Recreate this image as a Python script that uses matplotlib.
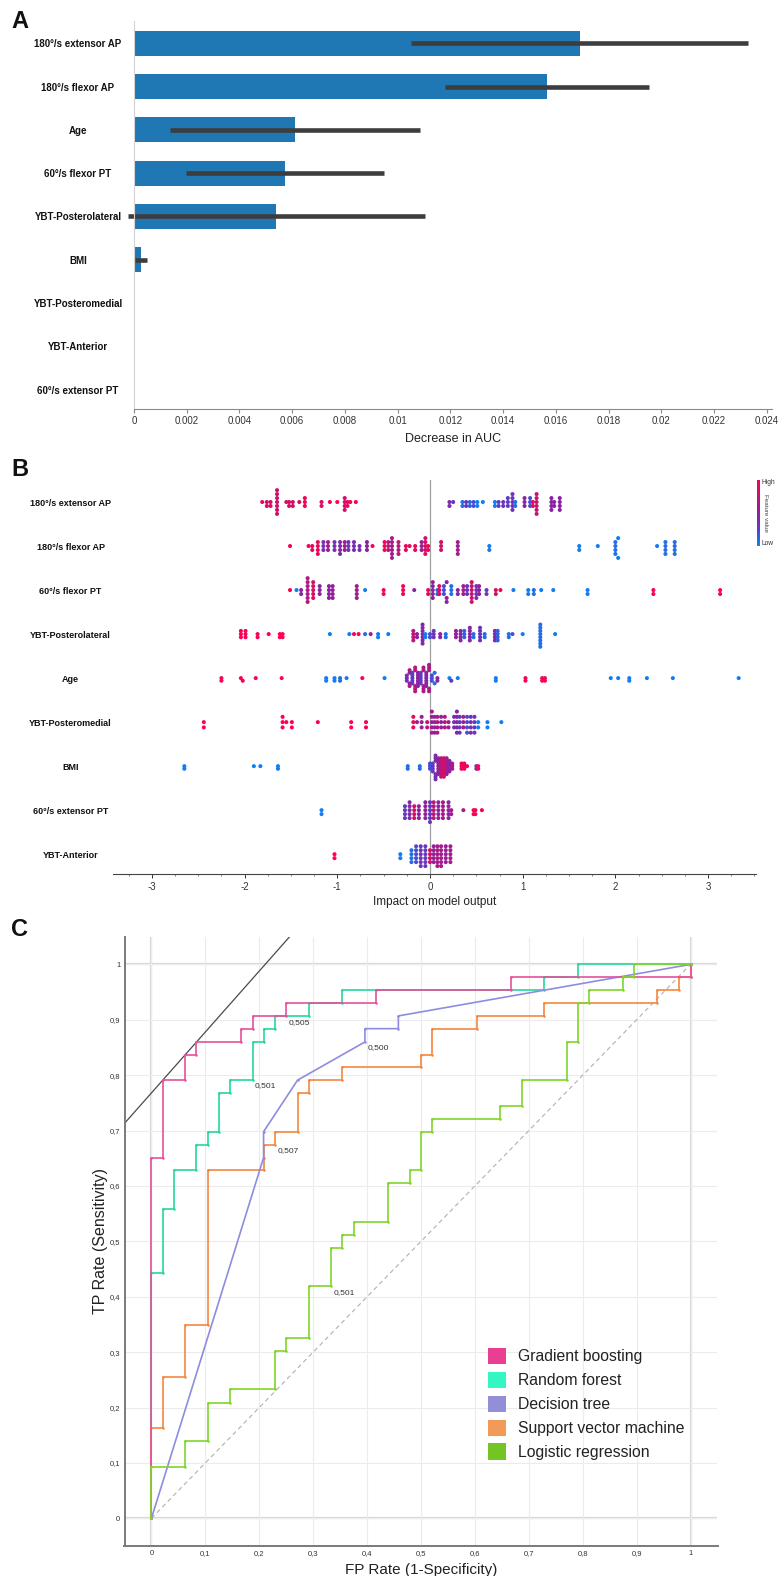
import numpy as np
import matplotlib
matplotlib.use("Agg")
import matplotlib.pyplot as plt
from matplotlib.colors import LinearSegmentedColormap
from matplotlib.patches import Patch
from matplotlib.ticker import FuncFormatter, MultipleLocator

plt.rcParams['font.family'] = ['Liberation Sans', 'DejaVu Sans']
plt.rcParams['axes.unicode_minus'] = False

W, H = 781, 1576

# ---------------- panel A: permutation importance ----------------
imp_features = ['180°/s extensor AP', '180°/s flexor AP', 'Age', '60°/s flexor PT',
                'YBT-Posterolateral', 'BMI', 'YBT-Posteromedial', 'YBT-Anterior',
                '60°/s extensor PT']
imp_mean = [0.0169, 0.01568, 0.00612, 0.00574, 0.0054, 0.00025, 0, 0, 0]
imp_err = [0.0064, 0.00387, 0.00474, 0.00375, 0.00562, 0.00023, 0, 0, 0]

# ---------------- panel B: SHAP summary (value, count, feature value) ----------------
shap_features = ['180°/s extensor AP', '180°/s flexor AP', '60°/s flexor PT',
                 'YBT-Posterolateral', 'Age', 'YBT-Posteromedial', 'BMI',
                 '60°/s extensor PT', 'YBT-Anterior']

shap_ext180_ap = [(-1.81, 1, 0.85), (-1.76, 2, 0.8), (-1.72, 2, 0.85), (-1.65, 7, 0.8),
                  (-1.55, 1, 0.8), (-1.52, 2, 0.85), (-1.48, 2, 0.8), (-1.41, 1, 0.8),
                  (-1.35, 3, 0.95), (-1.17, 2, 0.85), (-1.08, 1, 0.9), (-1.00, 1, 1.0),
                  (-0.92, 4, 0.8), (-0.89, 2, 0.9), (-0.86, 1, 0.95), (-0.80, 1, 0.95),
                  (0.21, 2, 0.4), (0.25, 1, 0.3), (0.35, 2, 0.1), (0.39, 2, 0.3),
                  (0.43, 2, 0.15), (0.47, 2, 0.2), (0.51, 2, 0.05), (0.57, 1, 0.05),
                  (0.70, 2, 0.05), (0.74, 2, 0.3), (0.79, 2, 0.35), (0.84, 3, 0.3),
                  (0.89, 5, 0.35), (0.92, 2, 0.1), (1.02, 3, 0.5), (1.08, 3, 0.2),
                  (1.11, 2, 0.9), (1.15, 6, 0.75), (1.31, 4, 0.5), (1.34, 2, 0.5),
                  (1.40, 4, 0.5)]
shap_flx180_ap = [(-1.51, 1, 0.95), (-1.31, 1, 0.95), (-1.27, 2, 0.85), (-1.21, 4, 0.9),
                  (-1.15, 3, 0.4), (-1.10, 3, 0.6), (-1.03, 3, 0.4), (-0.97, 4, 0.45),
                  (-0.92, 3, 0.6), (-0.88, 3, 0.35), (-0.82, 3, 0.4), (-0.76, 2, 0.4),
                  (-0.68, 3, 0.5), (-0.62, 1, 0.95), (-0.49, 3, 0.95), (-0.45, 3, 0.7),
                  (-0.41, 6, 0.6), (-0.34, 4, 0.7), (-0.26, 2, 0.9), (-0.22, 1, 0.9),
                  (-0.16, 2, 0.9), (-0.09, 3, 0.55), (-0.05, 5, 0.85), (-0.02, 2, 0.9),
                  (0.12, 3, 0.8), (0.30, 4, 0.6), (0.64, 2, 0.05), (1.61, 2, 0.05),
                  (1.81, 1, 0.05), (2.00, 4, 0.1), (2.03, 2, 0.05), (2.45, 1, 0.05),
                  (2.54, 4, 0.1), (2.64, 4, 0.1)]
shap_flx60_pt = [(-1.51, 1, 0.95), (-1.44, 1, 0.05), (-1.39, 2, 0.5), (-1.32, 7, 0.65),
                 (-1.26, 5, 0.85), (-1.19, 3, 0.5), (-1.09, 4, 0.5), (-1.05, 4, 0.55),
                 (-0.79, 4, 0.6), (-0.70, 1, 0.05), (-0.50, 2, 0.95), (-0.29, 3, 0.95),
                 (-0.17, 1, 0.5), (-0.02, 2, 0.9), (0.03, 5, 0.5), (0.08, 2, 0.1),
                 (0.10, 3, 0.9), (0.15, 3, 0.2), (0.18, 3, 0.5), (0.23, 3, 0.1),
                 (0.30, 2, 0.5), (0.36, 3, 0.6), (0.40, 3, 0.3), (0.45, 6, 0.75),
                 (0.50, 4, 0.4), (0.53, 3, 0.5), (0.61, 2, 0.3), (0.71, 2, 0.8),
                 (0.76, 1, 0.95), (0.90, 1, 0.05), (1.06, 2, 0.05), (1.12, 2, 0.1),
                 (1.20, 1, 0.05), (1.33, 1, 0.05), (1.70, 2, 0.05), (2.41, 2, 1.0),
                 (3.13, 2, 1.0)]
shap_ybt_pl = [(-2.04, 3, 1.0), (-1.99, 3, 0.95), (-1.86, 2, 0.95), (-1.74, 1, 1.0),
               (-1.62, 2, 1.0), (-1.59, 2, 0.95), (-1.08, 1, 0.05), (-0.87, 1, 0.05),
               (-0.82, 1, 0.95), (-0.77, 1, 0.9), (-0.70, 1, 0.1), (-0.64, 1, 0.6),
               (-0.56, 2, 0.05), (-0.45, 1, 0.05), (-0.18, 4, 0.7), (-0.14, 2, 0.5),
               (-0.08, 7, 0.45), (-0.05, 2, 0.05), (0.00, 2, 0.2), (0.04, 3, 0.35),
               (0.11, 2, 0.5), (0.17, 2, 0.1), (0.28, 3, 0.55), (0.33, 4, 0.5),
               (0.37, 3, 0.15), (0.43, 5, 0.5), (0.47, 2, 0.1), (0.54, 5, 0.35),
               (0.59, 2, 0.1), (0.70, 4, 0.45), (0.73, 4, 0.15), (0.85, 2, 0.1),
               (0.89, 1, 0.2), (1.00, 1, 0.05), (1.19, 8, 0.1), (1.35, 1, 0.05)]
shap_age = [(-2.25, 2, 1.0), (-2.04, 1, 1.0), (-2.02, 1, 0.95), (-1.88, 1, 1.0),
            (-1.60, 1, 1.0), (-1.12, 2, 0.05), (-1.03, 2, 0.05), (-0.97, 2, 0.1),
            (-0.90, 1, 0.05), (-0.73, 1, 1.0), (-0.49, 1, 0.05), (-0.25, 3, 0.4),
            (-0.22, 4, 0.6), (-0.19, 5, 0.3), (-0.16, 5, 0.7), (-0.13, 6, 0.5),
            (-0.10, 5, 0.3), (-0.07, 5, 0.65), (-0.04, 6, 0.5), (-0.01, 5, 0.6),
            (0.02, 3, 0.2), (0.05, 2, 0.1), (0.08, 2, 0.5), (0.21, 1, 0.05),
            (0.23, 1, 0.3), (0.30, 1, 0.05), (0.71, 2, 0.05), (1.03, 2, 1.0),
            (1.21, 2, 1.0), (1.24, 2, 0.95), (1.95, 1, 0.05), (2.03, 1, 0.05),
            (2.15, 2, 0.05), (2.34, 1, 0.05), (2.62, 1, 0.05), (3.33, 1, 0.05)]
shap_ybt_pm = [(-2.44, 2, 1.0), (-1.59, 3, 1.0), (-1.55, 1, 0.95), (-1.49, 2, 1.0),
               (-1.21, 1, 1.0), (-0.85, 2, 1.0), (-0.69, 2, 0.95), (-0.18, 3, 0.9),
               (-0.14, 1, 0.6), (-0.09, 3, 0.55), (-0.03, 2, 0.7), (0.02, 5, 0.6),
               (0.05, 4, 0.5), (0.08, 4, 0.65), (0.12, 3, 0.5), (0.16, 3, 0.7),
               (0.20, 2, 0.55), (0.26, 3, 0.4), (0.29, 5, 0.5), (0.32, 4, 0.3),
               (0.36, 3, 0.6), (0.40, 4, 0.2), (0.44, 4, 0.4), (0.48, 4, 0.35),
               (0.52, 2, 0.05), (0.62, 2, 0.05), (0.77, 1, 0.05)]
shap_bmi = [(-2.65, 2, 0.05), (-1.90, 1, 0.05), (-1.83, 1, 0.05), (-1.64, 2, 0.05),
            (-0.24, 2, 0.1), (-0.11, 2, 0.1), (0.00, 3, 0.2), (0.03, 4, 0.3),
            (0.06, 6, 0.4), (0.09, 7, 0.55), (0.12, 8, 0.7), (0.15, 8, 0.8),
            (0.18, 7, 0.6), (0.21, 5, 0.5), (0.24, 3, 0.6), (0.34, 3, 0.95),
            (0.37, 3, 0.9), (0.40, 1, 0.95), (0.50, 2, 0.3), (0.52, 2, 1.0)]
shap_ext60_pt = [(-1.17, 2, 0.05), (-0.27, 4, 0.3), (-0.22, 5, 0.45), (-0.17, 4, 0.8),
                 (-0.12, 4, 0.5), (-0.05, 5, 0.55), (0.00, 6, 0.3), (0.04, 5, 0.7),
                 (0.09, 5, 0.5), (0.14, 5, 0.65), (0.20, 5, 0.5), (0.23, 2, 0.6),
                 (0.36, 1, 0.6), (0.47, 2, 1.0), (0.49, 2, 0.95), (0.56, 1, 1.0)]
shap_ybt_ant = [(-1.03, 2, 1.0), (-0.32, 2, 0.05), (-0.20, 4, 0.1), (-0.15, 5, 0.2),
                (-0.10, 6, 0.35), (-0.05, 6, 0.3), (0.00, 4, 0.8), (0.04, 5, 0.55),
                (0.08, 6, 0.65), (0.12, 6, 0.6), (0.17, 5, 0.55), (0.22, 5, 0.6)]

shap_rows = [shap_ext180_ap, shap_flx180_ap, shap_flx60_pt, shap_ybt_pl, shap_age,
             shap_ybt_pm, shap_bmi, shap_ext60_pt, shap_ybt_ant]

# ---------------- panel C: ROC curves ----------------
gb_fpr = [0, 0, 0.021, 0.021, 0.062, 0.062, 0.083, 0.083, 0.167, 0.167, 0.188, 0.188,
          0.25, 0.25, 0.417, 0.417, 0.667, 0.667, 1.0, 1.0]
gb_tpr = [0, 0.651, 0.651, 0.791, 0.791, 0.837, 0.837, 0.860, 0.860, 0.884, 0.884, 0.907,
          0.907, 0.930, 0.930, 0.953, 0.953, 0.977, 0.977, 1.0]
rf_fpr = [0, 0, 0.021, 0.021, 0.042, 0.042, 0.083, 0.083, 0.104, 0.104, 0.125, 0.125,
          0.146, 0.146, 0.188, 0.188, 0.208, 0.208, 0.229, 0.229, 0.292, 0.292, 0.354,
          0.354, 0.729, 0.729, 0.792, 0.792, 1.0]
rf_tpr = [0, 0.442, 0.442, 0.558, 0.558, 0.628, 0.628, 0.674, 0.674, 0.698, 0.698, 0.767,
          0.767, 0.791, 0.791, 0.860, 0.860, 0.884, 0.884, 0.907, 0.907, 0.930, 0.930,
          0.953, 0.953, 0.977, 0.977, 1.0, 1.0]
dt_fpr = [0, 0.208, 0.208, 0.271, 0.396, 0.396, 0.458, 0.458, 1.0]
dt_tpr = [0, 0.651, 0.698, 0.791, 0.860, 0.884, 0.884, 0.907, 1.0]
svm_fpr = [0, 0, 0.021, 0.021, 0.062, 0.062, 0.104, 0.104, 0.208, 0.208, 0.229, 0.229,
           0.271, 0.271, 0.292, 0.292, 0.354, 0.354, 0.5, 0.5, 0.521, 0.521, 0.604, 0.604,
           0.729, 0.729, 0.938, 0.938, 0.979, 0.979, 1.0, 1.0]
svm_tpr = [0, 0.163, 0.163, 0.256, 0.256, 0.349, 0.349, 0.628, 0.628, 0.674, 0.674, 0.698,
           0.698, 0.767, 0.767, 0.791, 0.791, 0.814, 0.814, 0.837, 0.837, 0.884, 0.884,
           0.907, 0.907, 0.930, 0.930, 0.953, 0.953, 0.977, 0.977, 1.0]
lr_fpr = [0, 0, 0.062, 0.062, 0.104, 0.104, 0.146, 0.146, 0.229, 0.229, 0.25, 0.25, 0.292,
          0.292, 0.333, 0.333, 0.354, 0.354, 0.375, 0.375, 0.438, 0.438, 0.479, 0.479,
          0.5, 0.5, 0.521, 0.521, 0.646, 0.646, 0.688, 0.688, 0.771, 0.771, 0.792, 0.792,
          0.812, 0.812, 0.875, 0.875, 0.896, 0.896, 1.0]
lr_tpr = [0, 0.093, 0.093, 0.140, 0.140, 0.209, 0.209, 0.233, 0.233, 0.302, 0.302, 0.326,
          0.326, 0.419, 0.419, 0.488, 0.488, 0.512, 0.512, 0.535, 0.535, 0.605, 0.605,
          0.628, 0.628, 0.698, 0.698, 0.721, 0.721, 0.744, 0.744, 0.791, 0.791, 0.860,
          0.860, 0.930, 0.930, 0.953, 0.953, 0.977, 0.977, 1.0, 1.0]

model_names = ['Gradient boosting', 'Random forest', 'Decision tree',
               'Support vector machine', 'Logistic regression']
line_colors = ['#e4519b', '#27d69e', '#8d8ce0', '#f3873d', '#7fd62a']
swatch_colors = ['#e83f93', '#33f7c3', '#938fd6', '#f29a5a', '#74c424']
cut_labels = ['0,505', '0,501', '0,500', '0,507', '0,501']
cut_pos = [(0.254, 0.895), (0.192, 0.781), (0.401, 0.849), (0.234, 0.664), (0.338, 0.407)]


def px_axes(fig, left, top, right, bottom):
    return fig.add_axes([left / W, 1 - bottom / H, (right - left) / W, (bottom - top) / H])


def expand(groups):
    xs, fs = [], []
    for v, n, f in groups:
        xs += [v] * n
        fs += [f] * n
    return np.array(xs), np.array(fs)


def swarm(x, row_height=0.4, nbins=100):
    # same stacking rule as the shap beeswarm
    quant = np.round(nbins * (x - x.min()) / (x.max() - x.min() + 1e-8))
    inds = np.argsort(quant, kind='stable')
    ys = np.zeros(len(x))
    layer, last = 0, -1
    for i in inds:
        if quant[i] != last:
            layer = 0
        ys[i] = np.ceil(layer / 2) * ((layer % 2) * 2 - 1)
        layer += 1
        last = quant[i]
    return ys * 0.9 * (row_height / np.max(ys + 1))


fig = plt.figure(figsize=(W / 100, H / 100), dpi=100)

# ---------------- A ----------------
axA = px_axes(fig, 134, 21, 772, 409)
yA = np.arange(len(imp_features))
axA.barh(yA, imp_mean, height=0.58, color='#1f77b4')
for y, m, e in zip(yA, imp_mean, imp_err):
    if e > 0:
        axA.plot([m - e, m + e], [y, y], color='#3d3d3d', lw=3.3, solid_capstyle='butt',
                 clip_on=False)
axA.set_xlim(0, 0.0242)
axA.set_ylim(8.45, -0.515)
axA.set_yticks(yA)
axA.set_yticklabels(imp_features, fontsize=7, fontweight='bold', color='#111')
for lab in axA.get_yticklabels():
    lab.set_ha('center')
axA.tick_params(axis='y', length=0, pad=40.3)
axA.set_xticks(np.arange(0, 0.0245, 0.002))
axA.xaxis.set_major_formatter(FuncFormatter(lambda v, p: f"{v:.3f}".rstrip('0').rstrip('.')))
axA.tick_params(axis='x', labelsize=7, colors='#333', length=3, width=0.8, pad=2)
axA.tick_params(axis='x', color='#888')
for s in ['top', 'right']:
    axA.spines[s].set_visible(False)
axA.spines['left'].set_color('#d4d4d4')
axA.spines['bottom'].set_color('#8a8a8a')
axA.set_xlabel('Decrease in AUC', fontsize=9, color='#222', labelpad=5)

# ---------------- B ----------------
cmap = LinearSegmentedColormap.from_list(
    'shap_rb', ['#008bfb', '#5a3fc9', '#8a22a2', '#c8126f', '#ff0052'])
axB = px_axes(fig, 112.5, 480, 756, 874)
axB.axvline(0, color='#a0a0a0', lw=0.9, zorder=0)
for i, groups in enumerate(shap_rows):
    xs, fs = expand(groups)
    ys = swarm(xs)
    axB.scatter(xs, i + ys, c=fs, cmap=cmap, vmin=0, vmax=1, s=8.5, linewidths=0, zorder=3)
axB.set_xlim(-3.425, 3.517)
axB.set_ylim(8.45, -0.5)
axB.set_yticks(np.arange(len(shap_features)))
axB.set_yticklabels(shap_features, fontsize=6.5, fontweight='bold', color='#111')
for lab in axB.get_yticklabels():
    lab.set_ha('center')
axB.tick_params(axis='y', length=0, pad=30.2)
axB.set_xticks([-3, -2, -1, 0, 1, 2, 3])
axB.xaxis.set_minor_locator(MultipleLocator(0.25))
axB.tick_params(axis='x', labelsize=7, colors='#333', length=3, width=0.7, pad=3)
axB.tick_params(axis='x', which='minor', length=1.5, width=0.5, color='#555')
for s in ['top', 'right', 'left']:
    axB.spines[s].set_visible(False)
axB.spines['bottom'].set_color('#444')
axB.set_xlabel('Impact on model output', fontsize=8.5, color='#222', labelpad=3)

cax = px_axes(fig, 756.5, 480, 759.5, 546)
cax.imshow(np.linspace(0, 1, 256).reshape(-1, 1), cmap=cmap, aspect='auto', origin='lower')
cax.set_axis_off()
fig.text(761 / W, 1 - 483 / H, 'High', fontsize=4.8, color='#333', ha='left', va='center')
fig.text(761 / W, 1 - 544 / H, 'Low', fontsize=4.8, color='#333', ha='left', va='center')
fig.text(765 / W, 1 - 513 / H, 'Feature value', fontsize=4.5, color='#444', ha='center',
         va='center', rotation=270)

# ---------------- C ----------------
axC = px_axes(fig, 124.5, 936.7, 717.5, 1546)
axC.set_xlim(-0.05, 1.05)
axC.set_ylim(-0.05, 1.05)
ticks = np.round(np.arange(0, 1.01, 0.1), 1)
axC.set_xticks(ticks)
axC.set_yticks(ticks)
comma = FuncFormatter(lambda v, p: f"{v:.1f}".rstrip('0').rstrip('.').replace('.', ','))
axC.xaxis.set_major_formatter(comma)
axC.yaxis.set_major_formatter(comma)
axC.tick_params(labelsize=5.5, colors='#333', length=0, pad=3)
axC.grid(True, color='#ececec', lw=0.8)
axC.set_axisbelow(True)
for v in (0, 1):
    axC.axhline(v, color='#d9d9d9', lw=1.6, zorder=0.5)
    axC.axvline(v, color='#d9d9d9', lw=1.6, zorder=0.5)
for s in ['top', 'right']:
    axC.spines[s].set_visible(False)
for s in ['left', 'bottom']:
    axC.spines[s].set_color('#7a7a7a')
    axC.spines[s].set_linewidth(1.4)

axC.plot([0, 1], [0, 1], color='#b0b0b0', lw=0.8, ls=(0, (4, 3)), zorder=1)
axC.axline((0.02, 0.79), slope=1.1, color='#4a4a4a', lw=0.9, zorder=2)

curves = [(gb_fpr, gb_tpr), (rf_fpr, rf_tpr), (dt_fpr, dt_tpr), (svm_fpr, svm_tpr),
          (lr_fpr, lr_tpr)]
z_order = [4, 2, 3, 2.5, 5]
for (fx, ty), col, z in zip(curves, line_colors, z_order):
    axC.plot(fx, ty, color=col, lw=1.2, marker='o', ms=1.8, mec='none', zorder=z)

for lab, (lx, ly) in zip(cut_labels, cut_pos):
    axC.text(lx, ly, lab, fontsize=6, color='#333', ha='left', va='center')

axC.set_xlabel('FP Rate (1-Specificity)', fontsize=11, color='#222', labelpad=4)
axC.set_ylabel('TP Rate (Sensitivity)', fontsize=11.5, color='#222', labelpad=1)

handles = [Patch(facecolor=c, edgecolor='none') for c in swatch_colors]
axC.legend(handles, model_names, loc='upper left', bbox_to_anchor=(487.5 / W, 1 - 1348 / H),
           bbox_transform=fig.transFigure, frameon=False, fontsize=11.3,
           handlelength=1.2, handleheight=1.2, handletextpad=0.75, labelspacing=0.48,
           borderpad=0, borderaxespad=0, labelcolor='#222')

for lab, y in zip(['A', 'B', 'C'], [22, 470, 930]):
    fig.text(20 / W, 1 - y / H, lab, fontsize=17, fontweight='bold', ha='center',
             va='center', color='#111')

fig.savefig('out.png', dpi=100)
